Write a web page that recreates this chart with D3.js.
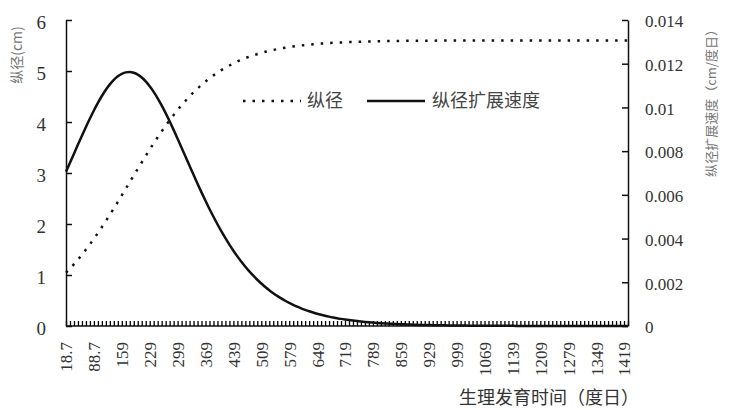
<!DOCTYPE html>
<html><head><meta charset="utf-8">
<script src="https://cdn.jsdelivr.net/npm/d3@7/dist/d3.min.js"></script>
<style>
html,body{margin:0;padding:0;background:#fff;}
svg{display:block;}
.num{font-family:"Liberation Serif","DejaVu Serif",serif;fill:#333;}
.cjk{font-family:"Noto Sans CJK SC",sans-serif;}
</style></head>
<body>
<svg id="chart" width="730" height="410"></svg>
<script>
// x categories: physiological development time (degree-days)
const categories = [18.7,28.7,38.7,48.7,58.7,68.7,78.7,88.7,98.7,108.7,118.7,128.7,138.7,148.7,158.7,168.7,178.7,188.7,198.7,208.7,218.7,228.7,238.7,248.7,258.7,268.7,278.7,288.7,298.7,308.7,318.7,328.7,338.7,348.7,358.7,368.7,378.7,388.7,398.7,408.7,418.7,428.7,438.7,448.7,458.7,468.7,478.7,488.7,498.7,508.7,518.7,528.7,538.7,548.7,558.7,568.7,578.7,588.7,598.7,608.7,618.7,628.7,638.7,648.7,658.7,668.7,678.7,688.7,698.7,708.7,718.7,728.7,738.7,748.7,758.7,768.7,778.7,788.7,798.7,808.7,818.7,828.7,838.7,848.7,858.7,868.7,878.7,888.7,898.7,908.7,918.7,928.7,938.7,948.7,958.7,968.7,978.7,988.7,998.7,1008.7,1018.7,1028.7,1038.7,1048.7,1058.7,1068.7,1078.7,1088.7,1098.7,1108.7,1118.7,1128.7,1138.7,1148.7,1158.7,1168.7,1178.7,1188.7,1198.7,1208.7,1218.7,1228.7,1238.7,1248.7,1258.7,1268.7,1278.7,1288.7,1298.7,1308.7,1318.7,1328.7,1338.7,1348.7,1358.7,1368.7,1378.7,1388.7,1398.7,1408.7,1418.7,1428.7];
// tick labels shown every 7th category
const xTickLabels = ["18.7","88.7","159","229","299","369","439","509","579","649","719","789","859","929","999","1069","1139","1209","1279","1349","1419"];
const leftTicks = [0,1,2,3,4,5,6];
const rightTicks = [0,0.002,0.004,0.006,0.008,0.01,0.012,0.014];
const rightTickLabels = ["0","0.002","0.004","0.006","0.008","0.01","0.012","0.014"];
// 纵径 (cm), left axis
const diameter = [1.045,1.126,1.212,1.303,1.398,1.498,1.602,1.711,1.823,1.940,2.059,2.182,2.307,2.434,2.562,2.692,2.822,2.952,3.082,3.210,3.336,3.460,3.583,3.700,3.815,3.926,4.034,4.136,4.235,4.328,4.417,4.502,4.582,4.657,4.727,4.794,4.856,4.914,4.968,5.018,5.065,5.108,5.148,5.186,5.220,5.252,5.281,5.308,5.332,5.355,5.376,5.395,5.413,5.429,5.444,5.457,5.470,5.481,5.491,5.501,5.509,5.517,5.525,5.531,5.537,5.543,5.548,5.552,5.557,5.560,5.564,5.567,5.570,5.573,5.575,5.577,5.579,5.581,5.583,5.584,5.586,5.587,5.588,5.589,5.590,5.591,5.592,5.593,5.593,5.594,5.594,5.595,5.595,5.596,5.596,5.596,5.597,5.597,5.597,5.598,5.598,5.598,5.598,5.598,5.598,5.599,5.599,5.599,5.599,5.599,5.599,5.599,5.599,5.599,5.599,5.599,5.600,5.600,5.600,5.600,5.600,5.600,5.600,5.600,5.600,5.600,5.600,5.600,5.600,5.600,5.600,5.600,5.600,5.600,5.600,5.600,5.600,5.600,5.600,5.600,5.600,5.600];
// 纵径扩展速度 (cm/度日), right axis
const speed = [0.007055,0.007468,0.007884,0.008299,0.008708,0.009108,0.009494,0.009862,0.010206,0.010523,0.010807,0.011054,0.011259,0.011421,0.011536,0.011603,0.011619,0.011585,0.011502,0.011371,0.011194,0.010974,0.010712,0.010419,0.010092,0.009739,0.009365,0.008974,0.008570,0.008159,0.007743,0.007328,0.006916,0.006510,0.006114,0.005728,0.005355,0.004997,0.004654,0.004327,0.004016,0.003723,0.003445,0.003185,0.002941,0.002712,0.002499,0.002300,0.002116,0.001944,0.001785,0.001638,0.001503,0.001377,0.001262,0.001155,0.001058,0.000968,0.000885,0.000809,0.000740,0.000676,0.000618,0.000564,0.000515,0.000470,0.000429,0.000392,0.000358,0.000326,0.000298,0.000272,0.000248,0.000226,0.000206,0.000188,0.000171,0.000156,0.000142,0.000130,0.000118,0.000108,0.000099,0.000090,0.000082,0.000075,0.000068,0.000062,0.000056,0.000051,0.000047,0.000043,0.000039,0.000036,0.000032,0.000029,0.000027,0.000024,0.000022,0.000020,0.000019,0.000017,0.000015,0.000014,0.000013,0.000012,0.000011,0.000010,0.000009,0.000008,0.000007,0.000007,0.000006,0.000005,0.000005,0.000004,0.000004,0.000004,0.000003,0.000003,0.000003,0.000003,0.000002,0.000002,0.000002,0.000002,0.000002,0.000001,0.000001,0.000001,0.000001,0.000001,0.000001,0.000001,0.000001,0.000001,0.000001,0.000001,0.000000,0.000000,0.000000,0.000000];

const svg = d3.select("#chart");
const L = 66, R = 628, T = 20, B = 326;

const x = d3.scalePoint().domain(categories).range([L, R]);
const yL = d3.scaleLinear().domain([0, 6]).range([B, T]);
const yR = d3.scaleLinear().domain([0, 0.014]).range([B, T]);

// bottom axis: minor ticks at every category (pointing inward)
const gx = svg.append("g").attr("transform", `translate(0,${B})`)
  .call(d3.axisBottom(x).tickValues(categories).tickSizeInner(-5).tickSizeOuter(0).tickFormat(""));
gx.select(".domain").attr("stroke", "#111").attr("stroke-width", 1.5).attr("d", `M${L},0H${R}`);
gx.selectAll(".tick line").attr("stroke", "#000").attr("stroke-width", 1.3);

// x tick labels every 7th category
const labelCats = categories.filter((d, i) => i % 7 === 0);
const gxl = svg.append("g").attr("transform", `translate(0,${B})`)
  .call(d3.axisBottom(x).tickValues(labelCats).tickSize(0).tickFormat((d, i) => xTickLabels[labelCats.indexOf(d)]));
gxl.select(".domain").remove();
gxl.selectAll(".tick text")
  .attr("class", "num")
  .style("font-size", "17px")
  .attr("transform", "rotate(-90)")
  .attr("text-anchor", "end")
  .attr("x", -16).attr("y", 0).attr("dy", "0.35em");

// left axis
const gl = svg.append("g").attr("transform", `translate(${L},0)`)
  .call(d3.axisLeft(yL).tickValues(leftTicks).tickSizeInner(-6).tickSizeOuter(0).tickPadding(20).tickFormat(d3.format("d")));
gl.select(".domain").attr("stroke", "#111").attr("stroke-width", 1.5);
gl.selectAll(".tick line").attr("stroke", "#111").attr("stroke-width", 1.5);
gl.selectAll(".tick text").attr("class", "num").style("font-size", "19px").attr("dy", "0.45em");

// right axis
const gr = svg.append("g").attr("transform", `translate(${R},0)`)
  .call(d3.axisRight(yR).tickValues(rightTicks).tickSizeInner(-6).tickSizeOuter(0).tickPadding(17)
    .tickFormat((d, i) => rightTickLabels[i]));
gr.select(".domain").attr("stroke", "#111").attr("stroke-width", 1.5);
gr.selectAll(".tick line").attr("stroke", "#111").attr("stroke-width", 1.5);
gr.selectAll(".tick text").attr("class", "num").style("font-size", "17px").attr("dy", "0.4em");

// series
const lineL = d3.line().x((d, i) => x(categories[i])).y(d => yL(d)).curve(d3.curveMonotoneX);
const lineR = d3.line().x((d, i) => x(categories[i])).y(d => yR(d)).curve(d3.curveMonotoneX);

svg.append("path").datum(diameter).attr("d", lineL)
  .attr("fill", "none").attr("stroke", "#111").attr("stroke-width", 2.5)
  .attr("stroke-dasharray", "2.5,7");
svg.append("path").datum(speed).attr("d", lineR)
  .attr("fill", "none").attr("stroke", "#111").attr("stroke-width", 2.5);

// axis titles
svg.append("text").attr("class", "cjk")
  .attr("transform", "translate(22,55) rotate(-90)")
  .attr("text-anchor", "middle").style("font-size", "14px").attr("fill", "#777")
  .text("纵径(cm)");
svg.append("text").attr("class", "cjk")
  .attr("transform", "translate(716,100) rotate(-90)")
  .attr("text-anchor", "middle").style("font-size", "13px").attr("fill", "#777")
  .text("纵径扩展速度（cm/度日）");
svg.append("text").attr("class", "cjk")
  .attr("x", 549).attr("y", 404)
  .attr("text-anchor", "middle").style("font-size", "18px").attr("fill", "#333")
  .text("生理发育时间（度日）");

// legend
const lg = svg.append("g");
lg.append("line").attr("x1", 243).attr("x2", 301).attr("y1", 101).attr("y2", 101)
  .attr("stroke", "#111").attr("stroke-width", 2.5).attr("stroke-dasharray", "2.5,7");
lg.append("text").attr("class", "cjk").attr("x", 307).attr("y", 107)
  .style("font-size", "18px").attr("fill", "#444").text("纵径");
lg.append("line").attr("x1", 367).attr("x2", 425).attr("y1", 101).attr("y2", 101)
  .attr("stroke", "#111").attr("stroke-width", 2.5);
lg.append("text").attr("class", "cjk").attr("x", 432).attr("y", 107)
  .style("font-size", "18px").attr("fill", "#444").text("纵径扩展速度");
</script>
</body></html>
